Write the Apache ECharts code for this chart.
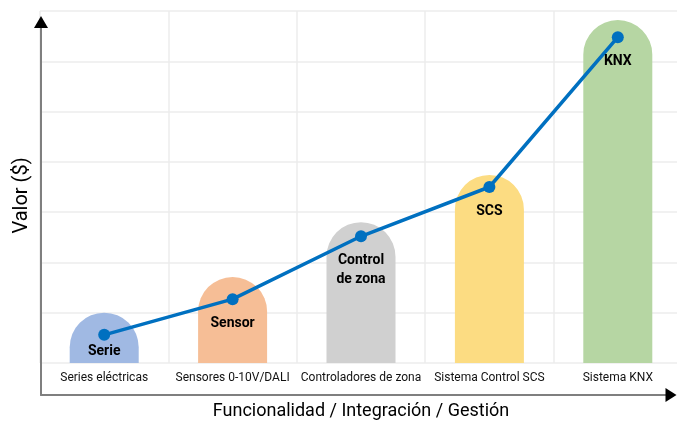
<!DOCTYPE html>
<html>
<head>
<meta charset="utf-8">
<script src="https://cdn.jsdelivr.net/npm/echarts@6/dist/echarts.min.js"></script>
<style>
  html, body { margin: 0; padding: 0; background: #fff; }
  #chart { width: 677px; height: 422px; }
</style>
</head>
<body>
<div id="chart"></div>
<script>
var categories = ["Series eléctricas", "Sensores 0-10V/DALI", "Controladores de zona", "Sistema Control SCS", "Sistema KNX"];
var barValues = [1.0, 1.71, 2.8, 3.74, 6.82];
var lineValues = [0.56, 1.27, 2.52, 3.5, 6.48];
var pointLabels = ["Serie", "Sensor", "Control\nde zona", "SCS", "KNX"];
var barColors = ["#a0b9e3", "#f6be96", "#d0d0d0", "#fcdc82", "#b6d6a3"];

var font = "Roboto, sans-serif";

var chart = echarts.init(document.getElementById("chart"));

// axis with arrow: gray line + black arrow drawn by a second, lineless axis
function frameAxis(opts) {
  return Object.assign({
    gridIndex: 1,
    type: "value",
    min: 0,
    max: 1,
    axisTick: { show: false },
    axisLabel: { show: false },
    splitLine: { show: false }
  }, opts);
}

var option = {
  animation: false,
  grid: [
    { left: 40, width: 642, top: 11, bottom: 59, outerBoundsMode: "none", containLabel: false },
    { left: 41, right: 6, top: 22, bottom: 27, outerBoundsMode: "none", containLabel: false }
  ],
  xAxis: [
    {
      type: "category",
      data: categories,
      axisLine: { show: false },
      axisTick: { show: false },
      axisLabel: { color: "#111", fontSize: 12, fontFamily: font, margin: 9, interval: 0 },
      splitLine: { show: true, lineStyle: { color: "#ececec", width: 1.5 } }
    },
    frameAxis({
      position: "bottom",
      axisLine: { show: true, onZero: false, lineStyle: { color: "#7f7f7f", width: 2 } },
      name: "Funcionalidad / Integración / Gestión",
      nameLocation: "middle",
      nameGap: 7,
      nameTextStyle: { color: "#000", fontSize: 18, fontFamily: font, padding: [0, 0, 0, 10] }
    }),
    frameAxis({
      position: "bottom",
      axisLine: { show: true, onZero: false, symbol: ["none", "triangle"], symbolSize: [14, 11], lineStyle: { color: "#000", width: 0 } }
    })
  ],
  yAxis: [
    {
      type: "value",
      min: 0,
      max: 7,
      interval: 1,
      axisLine: { show: false },
      axisTick: { show: false },
      axisLabel: { show: false },
      splitLine: { show: true, lineStyle: { color: "#ececec", width: 1.5 } }
    },
    frameAxis({
      position: "left",
      axisLine: { show: true, onZero: false, lineStyle: { color: "#7f7f7f", width: 2 } },
      name: "Valor ($)",
      nameLocation: "middle",
      nameRotate: 90,
      nameGap: 9,
      nameTextStyle: { color: "#000", fontSize: 20, fontFamily: font, padding: [0, 0, 0, 26] }
    }),
    frameAxis({
      position: "left",
      axisLine: { show: true, onZero: false, symbol: ["none", "triangle"], symbolSize: [14, 12], lineStyle: { color: "#000", width: 0 } }
    })
  ],
  series: [
    {
      type: "bar",
      barWidth: 69,
      data: barValues.map(function (v, i) {
        return { value: v, itemStyle: { color: barColors[i] } };
      }),
      itemStyle: { borderRadius: [35, 35, 0, 0] },
      silent: true
    },
    {
      type: "line",
      data: lineValues.map(function (v, i) {
        var d = { value: v };
        if (i === 0) d.label = { distance: 1 };
        return d;
      }),
      symbol: "circle",
      symbolSize: 12,
      z: 5,
      lineStyle: { color: "#0070c0", width: 3.5 },
      itemStyle: { color: "#0070c0" },
      label: {
        show: true,
        position: "bottom",
        distance: 9,
        color: "#000",
        fontSize: 14,
        fontWeight: "bold",
        fontFamily: font,
        lineHeight: 19,
        formatter: function (p) { return pointLabels[p.dataIndex]; }
      }
    }
  ]
};

chart.setOption(option);
</script>
</body>
</html>
